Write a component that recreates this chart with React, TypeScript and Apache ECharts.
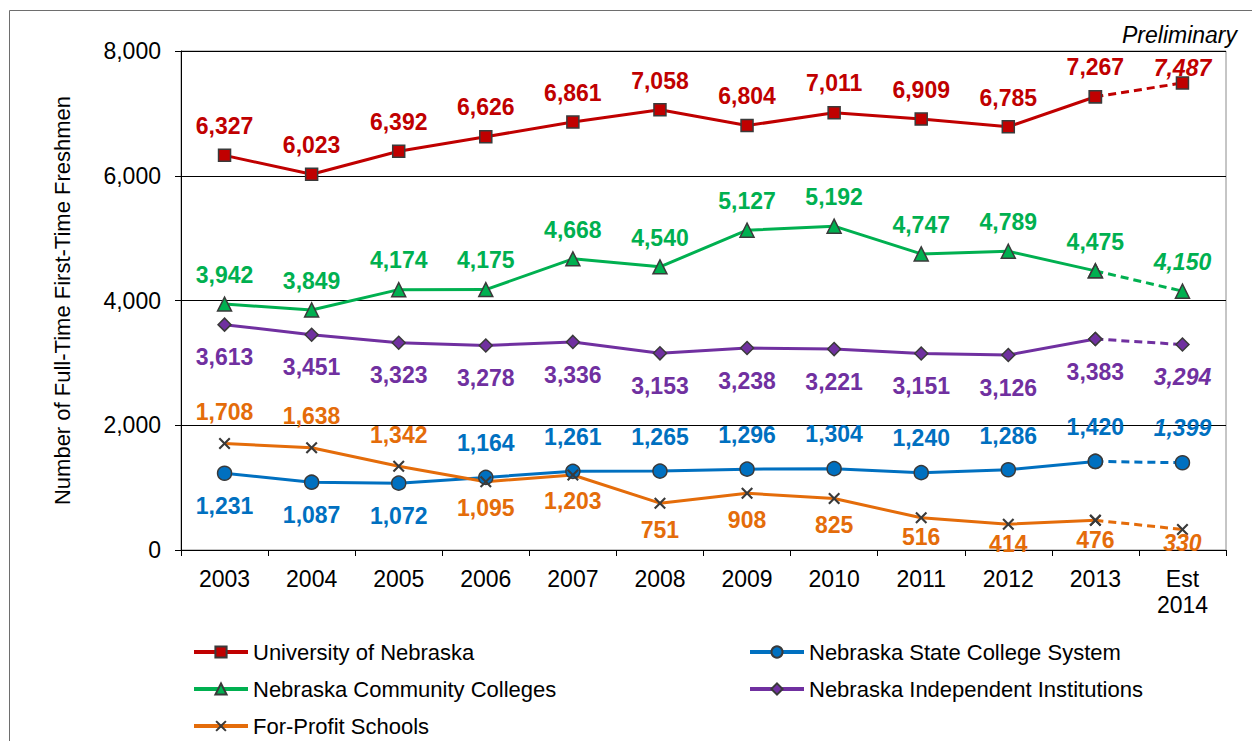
import React, { useEffect, useRef } from "react";
import * as echarts from "echarts";

const years = ["2003", "2004", "2005", "2006", "2007", "2008", "2009", "2010", "2011", "2012", "2013", "Est\n2014"];
const universityNE = [6327, 6023, 6392, 6626, 6861, 7058, 6804, 7011, 6909, 6785, 7267, 7487];
const communityColleges = [3942, 3849, 4174, 4175, 4668, 4540, 5127, 5192, 4747, 4789, 4475, 4150];
const independentInst = [3613, 3451, 3323, 3278, 3336, 3153, 3238, 3221, 3151, 3126, 3383, 3294];
const stateColleges = [1231, 1087, 1072, 1164, 1261, 1265, 1296, 1304, 1240, 1286, 1420, 1399];
const forProfit = [1708, 1638, 1342, 1095, 1203, 751, 908, 825, 516, 414, 476, 330];

const seriesNames = [
  "University of Nebraska",
  "Nebraska State College System",
  "Nebraska Community Colleges",
  "Nebraska Independent Institutions",
  "For-Profit Schools",
];

const FONT = "'Liberation Sans', Arial, sans-serif";
const X_PATH =
  "path://M0,1.5L1.5,0L6,4.5L10.5,0L12,1.5L7.5,6L12,10.5L10.5,12L6,7.5L1.5,12L0,10.5L4.5,6Z";

type Cfg = {
  name: string;
  values: number[];
  color: string;
  symbol: string;
  symbolSize: number;
  pos: string[];
  dist: number[];
  markerColor?: string;
};

function fmt(v: number) {
  return v.toLocaleString("en-US");
}

function buildSeries(c: Cfg) {
  const n = c.values.length;
  const mk = (i: number, italic: boolean) => ({
    value: c.values[i],
    label: {
      show: true,
      position: c.pos[i],
      distance: c.dist[i],
      fontStyle: italic ? "italic" : "normal",
    },
  });
  const itemStyle = {
    color: c.markerColor || c.color,
    borderColor: c.markerColor ? c.markerColor : "#3a3a3a",
    borderWidth: c.markerColor ? 0 : 1.5,
  };
  const label = {
    show: true,
    color: c.color,
    fontSize: 23,
    fontWeight: "bold",
    fontFamily: FONT,
    formatter: (p: any) => fmt(p.value),
  };
  const solid: any = {
    name: c.name,
    type: "line",
    symbol: c.symbol,
    symbolSize: c.symbolSize,
    lineStyle: { color: c.color, width: 3 },
    itemStyle,
    label,
    z: 3,
    data: c.values.map((_, i) => (i < n - 1 ? mk(i, false) : "-")),
  };
  const dashed: any = {
    name: c.name + " (est)",
    type: "line",
    symbol: c.symbol,
    symbolSize: c.symbolSize,
    lineStyle: { color: c.color, width: 3, type: [8, 5] },
    itemStyle,
    label,
    z: 3,
    data: c.values.map((v, i) =>
      i === n - 1 ? mk(i, true) : i === n - 2 ? { value: v, label: { show: false } } : "-"
    ),
  };
  return [solid, dashed];
}

const fill = (v: any) => years.map(() => v);

export default function App() {
  const ref = useRef<HTMLDivElement>(null);
  useEffect(() => {
    if (!ref.current) return;
    const chart = echarts.init(ref.current, undefined, { renderer: "svg" });

    const configs: Cfg[] = [
      {
        name: seriesNames[0],
        values: universityNE,
        color: "#C00000",
        symbol: "rect",
        symbolSize: 12,
        pos: fill("top"),
        dist: years.map((_, i) => (i === 11 ? -3 : 11)),
      },
      {
        name: seriesNames[1],
        values: stateColleges,
        color: "#0070C0",
        symbol: "circle",
        symbolSize: 14,
        pos: years.map((_, i) => (i < 3 ? "bottom" : "top")),
        dist: years.map((_, i) => (i < 3 ? 14 : 15)),
      },
      {
        name: seriesNames[2],
        values: communityColleges,
        color: "#00B050",
        symbol: "triangle",
        symbolSize: 14,
        pos: fill("top"),
        dist: fill(10),
      },
      {
        name: seriesNames[3],
        values: independentInst,
        color: "#7030A0",
        symbol: "diamond",
        symbolSize: 13,
        pos: fill("bottom"),
        dist: fill(14),
      },
      {
        name: seriesNames[4],
        values: forProfit,
        color: "#E46C0A",
        symbol: X_PATH,
        symbolSize: 12,
        markerColor: "#3a3a3a",
        pos: years.map((_, i) => (i < 3 ? "top" : "bottom")),
        dist: years.map((_, i) => (i < 3 ? 14 : i < 8 ? 9 : i < 11 ? 2 : -4)),
      },
    ];

    const series: any[] = [];
    configs.forEach((c) => series.push(...buildSeries(c)));

    const legendCommon = {
      orient: "vertical",
      itemWidth: 54,
      itemHeight: 14,
      itemGap: 15,
      padding: 0,
      height: 100,
      lineStyle: { width: 4 },
      textStyle: { fontSize: 22, fontFamily: FONT, color: "#000" },
      top: 641,
    };

    chart.setOption({
      animation: false,
      textStyle: { fontFamily: FONT },
      grid: {
        left: 181,
        right: 26,
        top: 51,
        bottom: 191,
        show: true,
        borderColor: "#8c8c8c",
        borderWidth: 1,
        containLabel: false,
      },
      legend: [
        {
          ...legendCommon,
          left: 192,
          data: [seriesNames[0], seriesNames[2], seriesNames[4]],
        },
        {
          ...legendCommon,
          left: 748,
          data: [seriesNames[1], seriesNames[3]],
        },
      ],
      graphic: [
        {
          type: "rect",
          silent: true,
          shape: { x: 9.5, y: 10.5, width: 1400, height: 900 },
          style: { fill: "none", stroke: "#6e6e6e", lineWidth: 1 },
        },
        {
          type: "text",
          right: 15,
          top: 23,
          style: {
            text: "Preliminary",
            font: "italic 23px 'Liberation Sans', Arial, sans-serif",
            fill: "#000",
          },
        },
      ],
      xAxis: {
        type: "category",
        data: years,
        boundaryGap: true,
        axisLine: { lineStyle: { color: "#000", width: 1 } },
        axisTick: { show: true, length: 6, lineStyle: { color: "#000" } },
        axisLabel: {
          color: "#000",
          fontSize: 23,
          fontFamily: FONT,
          margin: 16,
          lineHeight: 26,
          interval: 0,
        },
      },
      yAxis: {
        type: "value",
        min: 0,
        max: 8000,
        interval: 2000,
        name: "Number of Full-Time First-Time Freshmen",
        nameLocation: "middle",
        nameGap: 108,
        nameTextStyle: { fontSize: 22, color: "#000", fontFamily: FONT },
        axisLine: { show: true, lineStyle: { color: "#000", width: 1 } },
        axisTick: { show: true, length: 6, lineStyle: { color: "#000" } },
        axisLabel: {
          color: "#000",
          fontSize: 23,
          fontFamily: FONT,
          margin: 20,
          formatter: (v: number) => fmt(v),
        },
        splitLine: { show: true, lineStyle: { color: "#000", width: 1 } },
      },
      series,
    });
    return () => chart.dispose();
  }, []);
  return (
    <div
      ref={ref}
      style={{ position: "fixed", left: 0, top: 0, width: 1252, height: 741, background: "#fff" }}
    />
  );
}
